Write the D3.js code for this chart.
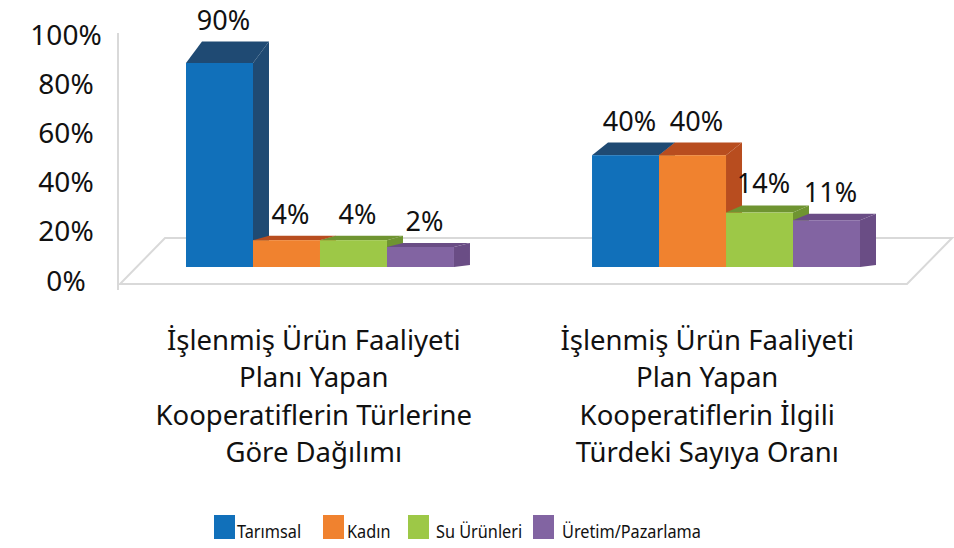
<!DOCTYPE html>
<html>
<head>
<meta charset="utf-8">
<script src="https://cdn.jsdelivr.net/npm/d3@7"></script>
<style>
  html, body { margin: 0; padding: 0; background: #fff; }
  svg { display: block; font-family: "Noto Sans", "Open Sans", sans-serif; }
</style>
</head>
<body>
<svg id="chart" width="954" height="548"></svg>
<script>
// ---- data ----
const categories = ["cat1", "cat2"];
const categoryLines = [
  ["İşlenmiş Ürün Faaliyeti", "Planı Yapan", "Kooperatiflerin Türlerine", "Göre Dağılımı"],
  ["İşlenmiş Ürün Faaliyeti", "Plan Yapan", "Kooperatiflerin İlgili", "Türdeki Sayıya Oranı"]
];
const seriesNames = ["Tarımsal", "Kadın", "Su Ürünleri", "Üretim/Pazarlama"];
const tarimsal = [90, 40];
const kadin = [4, 40];
const suUrunleri = [4, 14];
const uretimPazarlama = [2, 11];
const yTicks = [0, 20, 40, 60, 80, 100];
const frontColors = ["#1170ba", "#f0822f", "#9dc847", "#8264a2"];
const darkColors = ["#1f4a73", "#b84d1f", "#6f9431", "#6a4d85"];

const seriesValues = [tarimsal, kadin, suUrunleri, uretimPazarlama];

// ---- layout ----
const svg = d3.select("#chart");
const baseY = 267;

const x0 = d3.scaleBand().domain(categories).range([186, 860]).paddingInner(0.34).paddingOuter(0);
const x1 = d3.scaleBand().domain(seriesNames).range([0, x0.bandwidth()]);
const xLabel = d3.scaleBand().domain(categories).range([120, 907]);
const hScale = d3.scalePow().exponent(0.8).domain([0, 100]).range([10.8, 221]);
const yAxisScale = d3.scaleLinear().domain([0, 100]).range([290, 44]);

// floor
svg.append("path")
  .attr("d", "M120,284 L907,284 L952,238 L165,238 Z")
  .attr("fill", "none").attr("stroke", "#d9d9d9").attr("stroke-width", 2);
// vertical axis line
svg.append("line").attr("x1", 118).attr("x2", 118).attr("y1", 33).attr("y2", 290)
  .attr("stroke", "#d9d9d9").attr("stroke-width", 2);

// y axis labels
const yAxis = d3.axisLeft(yAxisScale).tickValues(yTicks).tickSize(0).tickFormat(d => d + "%");
const gy = svg.append("g").attr("transform", "translate(66,0)").call(yAxis);
gy.select(".domain").remove();
gy.selectAll("text")
  .attr("x", 0).attr("dy", 0)
  .attr("text-anchor", "middle")
  .attr("font-family", "'Noto Sans', sans-serif")
  .attr("font-size", 28).attr("fill", "#111");

// bars
const dx = 16;
categories.forEach((c, ci) => {
  const g = svg.append("g");
  seriesNames.forEach((s, si) => {
    const v = seriesValues[si][ci];
    const x = x0(c) + x1(s);
    const w = x1.bandwidth();
    const h = hScale(v);
    const top = baseY - h;
    const dyTop = -(2 + 0.095 * h);
    const dyBot = -2;
    // right face
    g.append("path")
      .attr("d", `M${x + w},${baseY} L${x + w + dx},${baseY + dyBot} L${x + w + dx},${top + dyTop} L${x + w},${top} Z`)
      .attr("fill", darkColors[si]);
    // top face
    g.append("path")
      .attr("d", `M${x},${top} L${x + dx},${top + dyTop} L${x + w + dx},${top + dyTop} L${x + w},${top} Z`)
      .attr("fill", darkColors[si]);
    // front face
    g.append("rect")
      .attr("x", x).attr("y", top).attr("width", w).attr("height", h)
      .attr("fill", frontColors[si]);
    // value label
    svg.append("text")
      .attr("x", x + w / 2 + 4)
      .attr("y", top + dyTop - 12)
      .attr("text-anchor", "middle")
      .attr("font-size", 27).attr("fill", "#111")
      .text(v + "%");
  });
});

// category labels
categories.forEach((c, ci) => {
  const cx = xLabel(c) + xLabel.bandwidth() / 2 - 3;
  const t = svg.append("text")
    .attr("text-anchor", "middle")
    .attr("font-size", 27.5).attr("fill", "#111");
  categoryLines[ci].forEach((line, li) => {
    t.append("tspan").attr("x", cx).attr("y", 350 + li * 37.3).text(line);
  });
});

// legend
const legendX = [214, 323, 408, 533];
const legendTextX = [237, 347, 436, 562];
const sx = 0.88;
const lg = svg.append("g");
seriesNames.forEach((s, si) => {
  lg.append("rect").attr("x", legendX[si]).attr("y", 515).attr("width", 21).attr("height", 24)
    .attr("fill", frontColors[si]);
  lg.append("text")
    .attr("x", legendTextX[si]).attr("y", 538)
    .attr("font-size", 18.5).attr("fill", "#111")
    .attr("transform", `translate(${legendTextX[si] * (1 - sx)},0) scale(${sx},1)`)
    .text(s);
});
</script>
</body>
</html>
